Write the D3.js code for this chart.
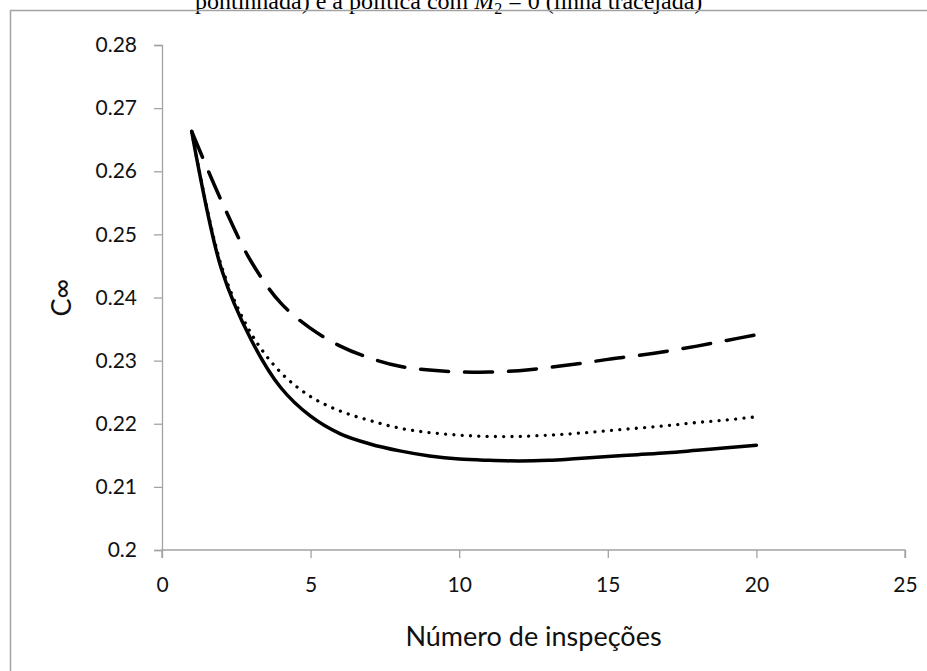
<!DOCTYPE html>
<html>
<head>
<meta charset="utf-8">
<script src="https://cdn.jsdelivr.net/npm/d3@7"></script>
<style>
  body { margin: 0; background: #fff; }
  svg { display: block; }
</style>
</head>
<body>
<div class="res"></div>
<script>
// inspections (x) and the three policies
const inspections = [1, 2, 3, 4, 5, 6, 7, 8, 9, 10, 11, 12, 13, 14, 15, 16, 17, 18, 19, 20];
const costSolid = [0.2663, 0.2445, 0.2333, 0.2257, 0.2212, 0.2184, 0.2168, 0.2157, 0.2149, 0.2144,
    0.2142, 0.2141, 0.2142, 0.2145, 0.2148, 0.2151, 0.2154, 0.2158, 0.2162, 0.2166];
const costDotted = [0.2663, 0.2450, 0.2343, 0.2281, 0.2243, 0.2220, 0.2205, 0.2193, 0.2186, 0.2182,
    0.2180, 0.2180, 0.2182, 0.2185, 0.2189, 0.2193, 0.2197, 0.2202, 0.2206, 0.2211];
const costDashed = [0.2663, 0.2553, 0.2457, 0.2391, 0.2351, 0.2323, 0.2304, 0.2291, 0.2285, 0.2282,
    0.2282, 0.2284, 0.2289, 0.2295, 0.2302, 0.2308, 0.2315, 0.2323, 0.2332, 0.2341];
const xTicks = [0, 5, 10, 15, 20, 25];
const yTicks = [0.2, 0.21, 0.22, 0.23, 0.24, 0.25, 0.26, 0.27, 0.28];

const W = 927, H = 671;
const margin = { top: 45, right: 22, bottom: 121, left: 162 };
const width = W - margin.left - margin.right;
const height = H - margin.top - margin.bottom;
const axisGrey = '#a3a3a3';

const root = d3.select('div.res')
    .append('svg')
    .attr('width', W)
    .attr('height', H);

// caption cut off at the top of the page
root.append('text')
    .attr('x', 195)
    .attr('y', 9)
    .style('font-family', '"Liberation Serif", "DejaVu Serif", serif')
    .style('font-size', '24px')
    .attr('fill', '#000')
    .call(t => {
        t.append('tspan').text('pontinhada) e a política com ');
        t.append('tspan').style('font-style', 'italic').text('M');
        t.append('tspan').attr('dy', 5).style('font-size', '16px').text('2');
        t.append('tspan').attr('dy', -5).text(' = 0 (linha tracejada)');
    });

// chart frame (only top and left edges show)
root.append('line')
    .attr('x1', 10).attr('x2', W).attr('y1', 10.5).attr('y2', 10.5)
    .attr('stroke', axisGrey).attr('stroke-width', 1.5);
root.append('line')
    .attr('x1', 10.5).attr('x2', 10.5).attr('y1', 10).attr('y2', H)
    .attr('stroke', axisGrey).attr('stroke-width', 1.5);

const svg = root.append('g')
    .attr('transform', `translate(${margin.left}, ${margin.top})`);

const xScale = d3.scaleLinear().domain([0, 25]).range([0, width]);
const yScale = d3.scaleLinear().domain([0.2, 0.28]).range([height, 0]);

// X axis
const xAxis = d3.axisBottom(xScale)
    .tickValues(xTicks)
    .tickSize(8)
    .tickPadding(19)
    .tickFormat(d3.format('d'));
const gx = svg.append('g')
    .attr('transform', `translate(0, ${height})`)
    .call(xAxis);

// Y axis
const yAxis = d3.axisLeft(yScale)
    .tickValues(yTicks)
    .tickSize(8)
    .tickPadding(17)
    .tickFormat(d => String(+d.toFixed(2)));
const gy = svg.append('g').call(yAxis);

[gx, gy].forEach(g => {
    g.select('.domain').attr('stroke', axisGrey).attr('stroke-width', 1.3);
    g.selectAll('.tick line').attr('stroke', axisGrey).attr('stroke-width', 1.3);
    g.selectAll('.tick text')
        .style('font-family', 'Lato, "Open Sans", sans-serif')
        .style('font-size', '21px')
        .attr('fill', '#111');
});
gx.select('.domain').attr('d', `M0,8V0H${width}V8`);

// axis titles
svg.append('text')
    .attr('x', width / 2)
    .attr('y', height + 96)
    .attr('text-anchor', 'middle')
    .style('font-family', 'Lato, "Open Sans", sans-serif')
    .style('font-size', '27px')
    .attr('fill', '#111')
    .text('Número de inspeções');

svg.append('text')
    .attr('transform', `translate(${62 - margin.left + 9}, ${height / 2}) rotate(-90)`)
    .attr('text-anchor', 'middle')
    .style('font-family', 'Lato, "Open Sans", sans-serif')
    .style('font-size', '27px')
    .attr('fill', '#111')
    .text('C∞');

// lines
const line = d3.line()
    .x(d => xScale(d[0]))
    .y(d => yScale(d[1]))
    .curve(d3.curveCatmullRom.alpha(0.5));

const series = [
    { values: costDashed, dash: '28,16', width: 3.5 },
    { values: costDotted, dash: '0.01,8.3', width: 3.3 },
    { values: costSolid, dash: null, width: 3.5 }
];

series.forEach(s => {
    svg.append('path')
        .datum(inspections.map((x, i) => [x, s.values[i]]))
        .attr('fill', 'none')
        .attr('stroke', '#000')
        .attr('stroke-width', s.width)
        .attr('stroke-linecap', 'round')
        .attr('stroke-linejoin', 'round')
        .attr('stroke-dasharray', s.dash)
        .attr('d', line);
});
</script>
</body>
</html>
